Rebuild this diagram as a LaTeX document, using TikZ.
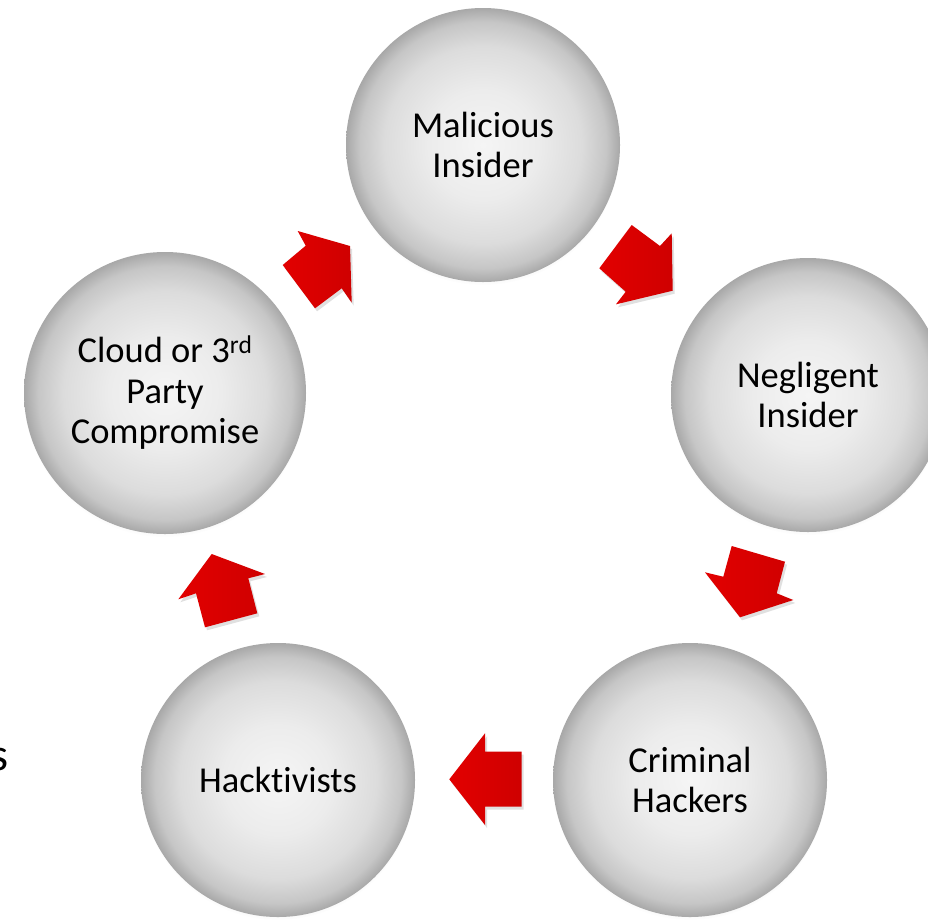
\documentclass[tikz,border=0pt]{standalone}
\usepackage{fontspec}
\setmainfont{Carlito}[Ligatures={NoCommon}]
\usetikzlibrary{shadows}
\definecolor{ballA}{HTML}{F5F5F5}
\definecolor{ballB}{HTML}{ECECEC}
\definecolor{ballC}{HTML}{DCDCDC}
\definecolor{ballE}{HTML}{C6C6C6}
\definecolor{ballD}{HTML}{A8A8A8}
\definecolor{arrowred}{HTML}{E20000}
\definecolor{arrowdark}{HTML}{CF0000}
\pgfdeclareradialshading{ballshade}{\pgfpoint{0bp}{0bp}}{color(0bp)=(ballA); color(10bp)=(ballB); color(18bp)=(ballC); color(22.5bp)=(ballE); color(25bp)=(ballD); color(50bp)=(ballD)}
\begin{document}
\begin{tikzpicture}[x=1pt,y=-1pt,
  ball/.style={circle, minimum size=274pt, inner sep=0pt, shading=ballshade, align=center,
    font=\fontsize{36.5}{40.5}\selectfont, text=black,
    circular drop shadow={shadow xshift=0pt, shadow yshift=-3pt, opacity=0.2, shadow scale=1}},
  blockarrow/.style={left color=arrowred, right color=arrowdark, draw=none},
  arrowshadow/.style={fill=black, opacity=0.12}]
\useasboundingbox (0,0) rectangle (928,919);
\fill[white] (0,0) rectangle (928,919);

\begin{scope}
\clip (0,0) rectangle (928,919);
\node[ball] (mal) at (483,145) {Malicious\\Insider};
\node[ball] (neg) at (808,395) {Negligent\\Insider};
\node[ball] (crim) at (690,780) {Criminal\\Hackers};
\node[ball] (hack) at (278,780) {Hacktivists};
\node[ball, minimum size=282pt] (cloud) at (165,393) {Cloud or 3\textsuperscript{rd}\\Party\\Compromise};
\node[anchor=base east, inner sep=0pt, font=\fontsize{46}{48}\selectfont] (stray) at (9,770) {s};
\end{scope}

% shadows of block arrows
\begin{scope}[shift={(2,3)}]
\fill[arrowshadow] (297.7,231) -- (350,246) -- (351.7,302.7) -- (341.7,288.3) -- (315,308.3) -- (282.7,265) -- (305.7,245.7) -- cycle;
\fill[arrowshadow] (631.7,225) -- (660,246) -- (671.7,233.3) -- (672.7,290.7) -- (616,304.3) -- (625.7,291.7) -- (599.3,268.3) -- cycle;
\fill[arrowshadow] (731.7,546) -- (785,561.7) -- (776.7,593.3) -- (793.3,600) -- (740,617.3) -- (705,572.3) -- (723.3,576.7) -- cycle;
\fill[arrowshadow] (449.3,779.3) -- (485,733.3) -- (485,751.7) -- (521.7,751.7) -- (521.7,806.7) -- (485,806.7) -- (485,825) -- cycle;
\fill[arrowshadow] (211.7,554) -- (265,574) -- (248.3,578.3) -- (257.3,613.3) -- (205,627.3) -- (196,593.3) -- (178.3,599.3) -- cycle;
\end{scope}

% block arrows
\path[blockarrow] (297.7,231) -- (350,246) -- (351.7,302.7) -- (341.7,288.3) -- (315,308.3) -- (282.7,265) -- (305.7,245.7) -- cycle;
\path[blockarrow] (631.7,225) -- (660,246) -- (671.7,233.3) -- (672.7,290.7) -- (616,304.3) -- (625.7,291.7) -- (599.3,268.3) -- cycle;
\path[blockarrow] (731.7,546) -- (785,561.7) -- (776.7,593.3) -- (793.3,600) -- (740,617.3) -- (705,572.3) -- (723.3,576.7) -- cycle;
\path[blockarrow] (449.3,779.3) -- (485,733.3) -- (485,751.7) -- (521.7,751.7) -- (521.7,806.7) -- (485,806.7) -- (485,825) -- cycle;
\path[blockarrow] (211.7,554) -- (265,574) -- (248.3,578.3) -- (257.3,613.3) -- (205,627.3) -- (196,593.3) -- (178.3,599.3) -- cycle;
\end{tikzpicture}
\end{document}
